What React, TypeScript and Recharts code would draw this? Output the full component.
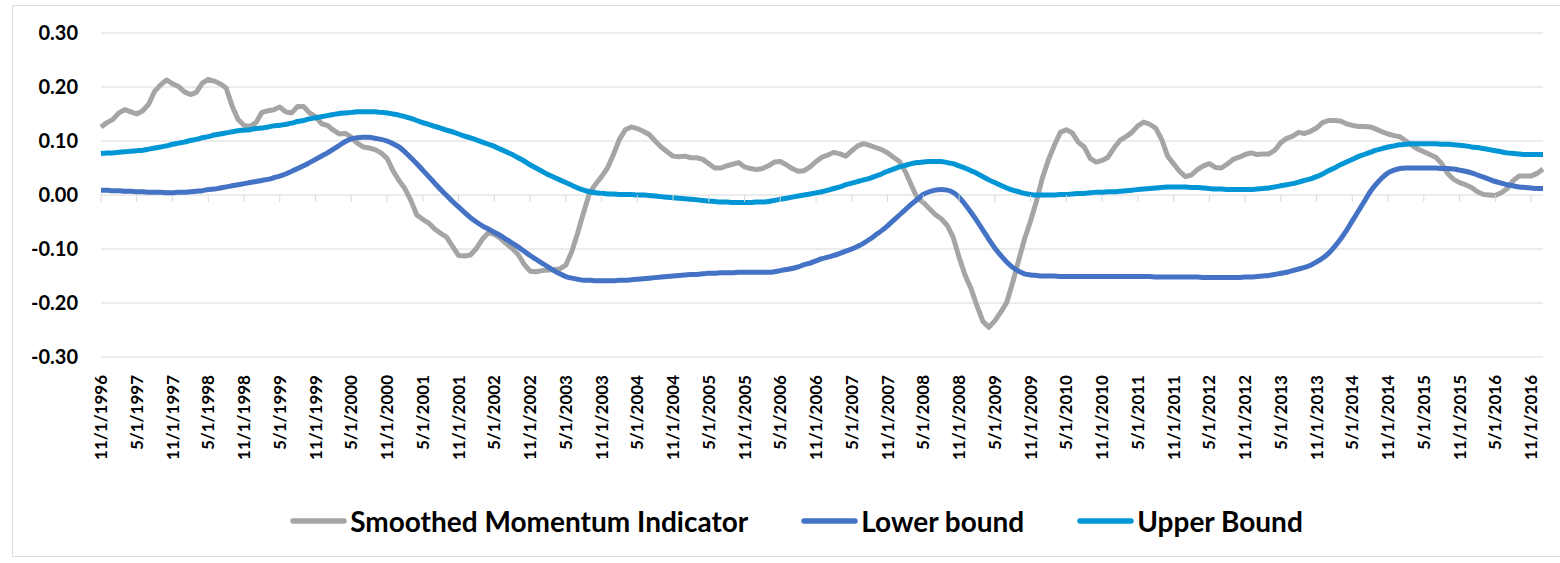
import { CartesianGrid, Legend, Line, LineChart, XAxis, YAxis } from "recharts"

// monthly observations, Nov 1996 .. Jan 2017
const START_YEAR = 1996
const START_MONTH = 11
const COUNT = 243

const months: string[] = []
for (let i = 0; i < COUNT; i++) {
  const idx = START_MONTH - 1 + i
  months.push(`${(idx % 12) + 1}/1/${START_YEAR + Math.floor(idx / 12)}`)
}

// one row per 12 months, starting Nov 1996
const momentum = [
  0.126, 0.134, 0.140, 0.152, 0.158, 0.154, 0.150, 0.156, 0.168, 0.192, 0.204, 0.213,
  0.206, 0.201, 0.191, 0.186, 0.190, 0.207, 0.214, 0.211, 0.206, 0.198, 0.165, 0.140,
  0.129, 0.127, 0.134, 0.153, 0.156, 0.158, 0.163, 0.154, 0.152, 0.164, 0.164, 0.152,
  0.145, 0.132, 0.129, 0.120, 0.113, 0.114, 0.107, 0.096, 0.089, 0.087, 0.084, 0.078,
  0.068, 0.045, 0.027, 0.012, -0.010, -0.037, -0.045, -0.052, -0.063, -0.071, -0.078, -0.095,
  -0.112, -0.113, -0.111, -0.099, -0.082, -0.070, -0.073, -0.080, -0.090, -0.099, -0.110, -0.128,
  -0.141, -0.142, -0.140, -0.139, -0.138, -0.137, -0.130, -0.105, -0.070, -0.032, 0.004, 0.020,
  0.034, 0.050, 0.075, 0.103, 0.121, 0.126, 0.123, 0.118, 0.112, 0.100, 0.089, 0.080,
  0.072, 0.071, 0.072, 0.069, 0.069, 0.066, 0.058, 0.050, 0.050, 0.054, 0.057, 0.060,
  0.052, 0.049, 0.047, 0.049, 0.054, 0.061, 0.062, 0.056, 0.049, 0.044, 0.045, 0.052,
  0.062, 0.070, 0.074, 0.079, 0.076, 0.072, 0.082, 0.091, 0.095, 0.092, 0.088, 0.084,
  0.078, 0.070, 0.062, 0.043, 0.018, -0.006, -0.014, -0.025, -0.036, -0.044, -0.056, -0.078,
  -0.115, -0.148, -0.173, -0.205, -0.234, -0.245, -0.233, -0.217, -0.199, -0.162, -0.121, -0.081,
  -0.048, -0.011, 0.032, 0.065, 0.092, 0.116, 0.121, 0.115, 0.098, 0.089, 0.068, 0.061,
  0.064, 0.070, 0.087, 0.101, 0.108, 0.116, 0.128, 0.135, 0.131, 0.124, 0.103, 0.072,
  0.058, 0.044, 0.034, 0.037, 0.047, 0.054, 0.058, 0.051, 0.050, 0.057, 0.066, 0.070,
  0.075, 0.078, 0.075, 0.076, 0.076, 0.083, 0.097, 0.105, 0.109, 0.116, 0.114, 0.118,
  0.124, 0.134, 0.138, 0.138, 0.137, 0.132, 0.129, 0.127, 0.127, 0.126, 0.122, 0.117,
  0.113, 0.110, 0.108, 0.100, 0.092, 0.085, 0.080, 0.075, 0.070, 0.058, 0.040, 0.029,
  0.023, 0.019, 0.014, 0.006, 0.001, 0.000, -0.001, 0.004, 0.012, 0.027, 0.035, 0.035,
  0.035, 0.040, 0.048,
]

const lowerBound = [
  0.009, 0.009, 0.008, 0.008, 0.007, 0.007, 0.006, 0.006, 0.005, 0.005, 0.005, 0.004,
  0.004, 0.005, 0.005, 0.006, 0.007, 0.008, 0.010, 0.011, 0.013, 0.015, 0.017, 0.019,
  0.021, 0.023, 0.025, 0.027, 0.029, 0.032, 0.035, 0.039, 0.044, 0.049, 0.054, 0.060,
  0.066, 0.072, 0.078, 0.085, 0.092, 0.099, 0.104, 0.106, 0.107, 0.107, 0.105, 0.103,
  0.100, 0.095, 0.089, 0.080, 0.069, 0.058, 0.046, 0.034, 0.022, 0.010, -0.001, -0.012,
  -0.022, -0.032, -0.042, -0.050, -0.057, -0.063, -0.069, -0.075, -0.082, -0.089, -0.096, -0.104,
  -0.112, -0.119, -0.126, -0.133, -0.140, -0.146, -0.151, -0.154, -0.156, -0.158, -0.158, -0.159,
  -0.159, -0.159, -0.159, -0.158, -0.158, -0.157, -0.156, -0.155, -0.154, -0.153, -0.152, -0.151,
  -0.150, -0.149, -0.148, -0.147, -0.147, -0.146, -0.145, -0.145, -0.144, -0.144, -0.144, -0.143,
  -0.143, -0.143, -0.143, -0.143, -0.143, -0.142, -0.140, -0.138, -0.136, -0.133, -0.129, -0.126,
  -0.122, -0.118, -0.115, -0.112, -0.108, -0.104, -0.100, -0.095, -0.089, -0.082, -0.074, -0.066,
  -0.057, -0.047, -0.037, -0.027, -0.017, -0.008, 0.001, 0.006, 0.009, 0.010, 0.009, 0.005,
  -0.004, -0.017, -0.032, -0.048, -0.065, -0.082, -0.098, -0.112, -0.124, -0.134, -0.141, -0.146,
  -0.148, -0.149, -0.150, -0.150, -0.150, -0.151, -0.151, -0.151, -0.151, -0.151, -0.151, -0.151,
  -0.151, -0.151, -0.151, -0.151, -0.151, -0.151, -0.151, -0.151, -0.151, -0.152, -0.152, -0.152,
  -0.152, -0.152, -0.152, -0.152, -0.152, -0.153, -0.153, -0.153, -0.153, -0.153, -0.153, -0.153,
  -0.152, -0.152, -0.151, -0.150, -0.149, -0.147, -0.145, -0.143, -0.140, -0.137, -0.134, -0.130,
  -0.124, -0.117, -0.108, -0.096, -0.082, -0.066, -0.048, -0.030, -0.012, 0.006, 0.020, 0.032,
  0.041, 0.046, 0.049, 0.050, 0.050, 0.050, 0.050, 0.050, 0.050, 0.049, 0.049, 0.048,
  0.046, 0.044, 0.041, 0.037, 0.033, 0.029, 0.025, 0.022, 0.019, 0.017, 0.015, 0.014,
  0.013, 0.012, 0.012,
]

const upperBound = [
  0.077, 0.078, 0.078, 0.079, 0.080, 0.081, 0.082, 0.083, 0.085, 0.087, 0.089, 0.091,
  0.094, 0.096, 0.098, 0.101, 0.103, 0.106, 0.108, 0.111, 0.113, 0.115, 0.117, 0.119,
  0.120, 0.121, 0.123, 0.124, 0.126, 0.128, 0.129, 0.131, 0.133, 0.136, 0.138, 0.141,
  0.143, 0.145, 0.147, 0.149, 0.151, 0.152, 0.153, 0.154, 0.154, 0.154, 0.154, 0.153,
  0.152, 0.150, 0.148, 0.145, 0.142, 0.138, 0.134, 0.131, 0.127, 0.124, 0.120, 0.117,
  0.113, 0.109, 0.106, 0.102, 0.098, 0.094, 0.090, 0.085, 0.080, 0.075, 0.069, 0.063,
  0.056, 0.050, 0.044, 0.038, 0.033, 0.028, 0.023, 0.018, 0.013, 0.009, 0.006, 0.004,
  0.003, 0.002, 0.002, 0.001, 0.001, 0.001, 0.000, 0.000, -0.001, -0.002, -0.003, -0.004,
  -0.005, -0.006, -0.007, -0.008, -0.009, -0.010, -0.011, -0.012, -0.013, -0.013, -0.014, -0.014,
  -0.014, -0.014, -0.013, -0.013, -0.012, -0.010, -0.008, -0.006, -0.004, -0.002, 0.000, 0.002,
  0.004, 0.006, 0.009, 0.012, 0.015, 0.019, 0.022, 0.025, 0.028, 0.031, 0.035, 0.039,
  0.044, 0.048, 0.052, 0.055, 0.058, 0.060, 0.061, 0.062, 0.062, 0.062, 0.060, 0.058,
  0.054, 0.050, 0.045, 0.040, 0.034, 0.028, 0.023, 0.018, 0.013, 0.009, 0.006, 0.003,
  0.001, 0.000, 0.000, 0.000, 0.000, 0.001, 0.001, 0.002, 0.003, 0.003, 0.004, 0.005,
  0.005, 0.006, 0.006, 0.007, 0.008, 0.009, 0.010, 0.011, 0.012, 0.013, 0.014, 0.015,
  0.015, 0.015, 0.015, 0.014, 0.014, 0.013, 0.012, 0.011, 0.011, 0.010, 0.010, 0.010,
  0.010, 0.010, 0.011, 0.012, 0.013, 0.015, 0.017, 0.019, 0.021, 0.024, 0.027, 0.030,
  0.034, 0.039, 0.045, 0.050, 0.056, 0.061, 0.066, 0.071, 0.075, 0.079, 0.083, 0.086,
  0.089, 0.091, 0.093, 0.094, 0.095, 0.095, 0.095, 0.095, 0.095, 0.094, 0.094, 0.093,
  0.092, 0.091, 0.089, 0.088, 0.086, 0.084, 0.082, 0.080, 0.078, 0.077, 0.076, 0.075,
  0.075, 0.075, 0.075,
]

const yTicks = [-0.3, -0.2, -0.1, 0, 0.1, 0.2, 0.3]
const seriesOrder = ["Smoothed Momentum Indicator", "Lower bound", "Upper Bound"]

const chartData = months.map((date, i) => ({
  date,
  momentum: momentum[i],
  lower: lowerBound[i],
  upper: upperBound[i],
}))

const FONT = "Lato, 'Open Sans', sans-serif"
const PLOT_TOP = 33
const PLOT_H = 324
const ZERO_Y = PLOT_TOP + PLOT_H / 2

const DateTick = ({ x, y, payload }: any) => {
  const top = y + 10
  return (
    <g>
      <line x1={x} x2={x} y1={ZERO_Y} y2={ZERO_Y + 7} stroke="#d9d9d9" strokeWidth={1} />
      <text
        x={x}
        y={top}
        transform={`rotate(-90 ${x} ${top})`}
        textAnchor="end"
        dy="0.36em"
        fontFamily={FONT}
        fontWeight={700}
        fontSize={17}
        fill="#000"
      >
        {payload.value}
      </text>
    </g>
  )
}

const LegendContent = ({ payload }: any) => {
  const items = [...(payload || [])].sort(
    (a: any, b: any) => seriesOrder.indexOf(a.value) - seriesOrder.indexOf(b.value)
  )
  return (
    <div
      style={{
        display: "flex",
        justifyContent: "center",
        alignItems: "center",
        height: 60,
        paddingLeft: 33,
        fontFamily: FONT,
        fontWeight: 700,
        fontSize: 28,
        color: "#000",
      }}
    >
      {items.map((p: any, i: number) => (
        <div key={p.value} style={{ display: "flex", alignItems: "center", marginLeft: i === 0 ? 0 : 53 }}>
          <svg width={57} height={10}>
            <line x1={3} y1={5} x2={54} y2={5} stroke={p.color} strokeWidth={5.5} strokeLinecap="round" />
          </svg>
          <span style={{ marginLeft: 3 }}>{p.value}</span>
        </div>
      ))}
    </div>
  )
}

export default function App() {
  return (
    <div style={{ position: "absolute", left: 0, top: 0, width: 1560, height: 563, background: "#fff" }}>
      <div
        style={{
          position: "absolute",
          left: 12,
          top: 5,
          width: 1560,
          height: 550,
          borderLeft: "1px solid #dedede",
          borderTop: "1px solid #dedede",
          borderBottom: "1px solid #dedede",
        }}
      />
      <LineChart
        width={1560}
        height={563}
        data={chartData}
        margin={{ top: PLOT_TOP, right: 17, left: 0, bottom: 12 }}
      >
        <CartesianGrid vertical={false} stroke="#d9d9d9" strokeWidth={1} />
        <XAxis
          dataKey="date"
          interval={5}
          axisLine={false}
          tickLine={false}
          height={134}
          tick={<DateTick />}
        />
        <YAxis
          domain={[-0.3, 0.3]}
          ticks={yTicks}
          axisLine={false}
          tickLine={false}
          width={101}
          tickMargin={17}
          tickFormatter={(v: number) => v.toFixed(2)}
          tick={{ fontFamily: FONT, fontWeight: 700, fontSize: 20, fill: "#000" }}
        />
        <Legend
          verticalAlign="bottom"
          wrapperStyle={{ left: 0, width: 1560 }}
          content={<LegendContent />}
        />
        <Line
          name="Smoothed Momentum Indicator"
          type="linear"
          dataKey="momentum"
          stroke="#a5a5a5"
          strokeWidth={5}
          dot={false}
          strokeLinejoin="round"
          isAnimationActive={false}
        />
        <Line
          name="Lower bound"
          type="monotone"
          dataKey="lower"
          stroke="#4472c4"
          strokeWidth={5}
          dot={false}
          isAnimationActive={false}
        />
        <Line
          name="Upper Bound"
          type="monotone"
          dataKey="upper"
          stroke="#0096d6"
          strokeWidth={5}
          dot={false}
          isAnimationActive={false}
        />
      </LineChart>
    </div>
  )
}
